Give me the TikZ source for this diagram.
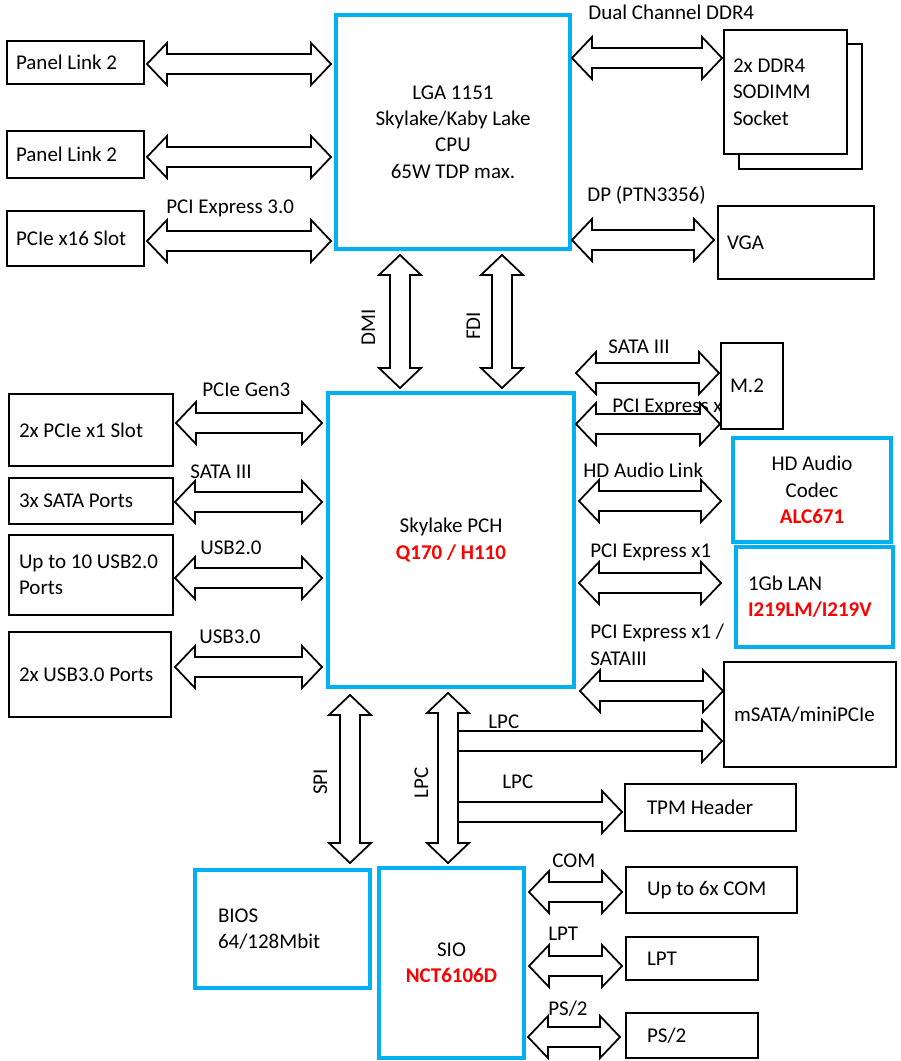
\documentclass[tikz,border=0pt]{standalone}
\usepackage{fontspec}
\setmainfont{Carlito}
\usetikzlibrary{calc}
\definecolor{chipblue}{HTML}{00B0F0}
\definecolor{chipred}{HTML}{FF0000}
\def\headlen{0.4cm}
\def\headwid{0.42cm}
\def\shaftwid{0.2cm}
\newcommand{\partno}[1]{{\color{chipred}\bfseries #1}}
\tikzset{
	box/.style={draw, line width=1pt, fill=white, outer sep=0pt, inner ysep=0pt, align=flush left},
	chip/.style={draw=chipblue, line width=2.3pt, fill=white, outer sep=0pt, inner sep=0pt, align=center},
	bus/.style={inner sep=0pt, anchor=base west, align=flush left},
	vbus/.style={inner sep=0pt, anchor=base, rotate=90},
	hdbl/.style={draw, fill=white, line width=1pt, line join=miter,
		to path={-- ([shift={(\headlen,\headwid)}]\tikztostart)
			-- ([shift={(\headlen,\shaftwid)}]\tikztostart)
			-- ([shift={(-\headlen,\shaftwid)}]\tikztotarget)
			-- ([shift={(-\headlen,\headwid)}]\tikztotarget)
			-- (\tikztotarget)
			-- ([shift={(-\headlen,-\headwid)}]\tikztotarget)
			-- ([shift={(-\headlen,-\shaftwid)}]\tikztotarget)
			-- ([shift={(\headlen,-\shaftwid)}]\tikztostart)
			-- ([shift={(\headlen,-\headwid)}]\tikztostart)
			-- cycle}},
	vdbl/.style={draw, fill=white, line width=1pt, line join=miter,
		to path={-- ([shift={(\headwid,-\headlen)}]\tikztostart)
			-- ([shift={(\shaftwid,-\headlen)}]\tikztostart)
			-- ([shift={(\shaftwid,\headlen)}]\tikztotarget)
			-- ([shift={(\headwid,\headlen)}]\tikztotarget)
			-- (\tikztotarget)
			-- ([shift={(-\headwid,\headlen)}]\tikztotarget)
			-- ([shift={(-\shaftwid,\headlen)}]\tikztotarget)
			-- ([shift={(-\shaftwid,-\headlen)}]\tikztostart)
			-- ([shift={(-\headwid,-\headlen)}]\tikztostart)
			-- cycle}},
	hsgl/.style={draw, fill=white, line width=1pt, line join=miter,
		to path={-- ([yshift=\shaftwid]\tikztostart)
			-- ([shift={(-\headlen,\shaftwid)}]\tikztotarget)
			-- ([shift={(-\headlen,\headwid)}]\tikztotarget)
			-- (\tikztotarget)
			-- ([shift={(-\headlen,-\headwid)}]\tikztotarget)
			-- ([shift={(-\headlen,-\shaftwid)}]\tikztotarget)
			-- ([yshift=-\shaftwid]\tikztostart)
			-- cycle}}
}
\begin{document}
\begin{tikzpicture}[x=0.02cm, y=-0.02cm, font=\fontsize{11.95}{15}\selectfont]
		\useasboundingbox (0,0) rectangle (901,1061);
		\node (lddr) [bus] at (588,20) {Dual Channel DDR4};
		\node (ldp) [bus] at (587,201) {DP (PTN3356)};
		\node (lx16) [bus] at (166,213) {PCI Express 3.0};
		\node (lm2a) [bus] at (608,353) {SATA III};
		\node (lm2b) [bus] at (612,412) {PCI Express x};
		\node (lhda) [bus] at (583,477) {HD Audio Link};
		\node (llan) [bus] at (590,557) {PCI Express x1};
		\node (lmsata) [bus] at (590,665) {PCI Express x1 /\\SATAIII};
		\node (lpcie1) [bus] at (202,396) {PCIe Gen3};
		\node (lsata) [bus] at (190,478) {SATA III};
		\node (lusb2) [bus] at (200,554) {USB2.0};
		\node (lusb3) [bus] at (199,643) {USB3.0};
		\node (llpc1) [bus] at (488,728) {LPC};
		\node (llpc2) [bus] at (502,788) {LPC};
		\node (lcom) [bus] at (552,867) {COM};
		\node (llpt) [bus] at (548,940) {LPT};
		\node (lps2) [bus] at (548,1015) {PS/2};
		\node (ldmi) [vbus] at (375,327) {DMI};
		\node (lfdi) [vbus] at (480,326) {FDI};
		\node (lspi) [vbus] at (327,782) {SPI};
		\node (llpcv) [vbus] at (428,783) {LPC};
		\node (pl1) [box, minimum height=0.86cm, text width=2.38cm, inner xsep=0.18cm] at (75.5,62.5) {Panel Link 2};
		\node (pl2) [box, minimum height=0.94cm, text width=2.38cm, inner xsep=0.18cm] at (75.5,154.5) {Panel Link 2};
		\node (x16) [box, minimum height=1.10cm, text width=2.38cm, inner xsep=0.18cm] at (75.5,238.5) {PCIe x16 Slot};
		\node (ddrb) [box, minimum width=2.46cm, minimum height=2.50cm] at (800.5,106.5) {};
		\node (ddr) [box, minimum height=2.48cm, text width=2.10cm, inner xsep=0.18cm] at (785.5,92) {2x DDR4\\SODIMM\\Socket};
		\node (vga) [box, minimum height=1.46cm, text width=2.76cm, inner xsep=0.18cm] at (796,242.5) {VGA};
		\node (m2) [box, minimum height=1.72cm, text width=0.88cm, inner xsep=0.18cm] at (752,386) {M.2};
		\node (msata) [box, minimum height=2.10cm, text width=3.04cm, inner xsep=0.2cm] at (810,714.5) {mSATA/miniPCIe};
		\node (tpm) [box, minimum height=0.94cm, text width=2.54cm, inner xsep=0.44cm] at (710.5,807.5) {TPM Header};
		\node (com) [box, minimum height=0.92cm, text width=2.58cm, inner xsep=0.42cm] at (711.5,890) {Up to 6x COM};
		\node (lpt) [box, minimum height=0.86cm, text width=1.80cm, inner xsep=0.42cm] at (692,958.5) {LPT};
		\node (ps2) [box, minimum height=0.90cm, text width=1.80cm, inner xsep=0.42cm] at (692,1035.5) {PS/2};
		\node (pcie1) [box, minimum height=1.44cm, text width=2.88cm, inner xsep=0.2cm] at (91,430) {2x PCIe x1 Slot};
		\node (sata) [box, minimum height=0.92cm, text width=2.88cm, inner xsep=0.2cm] at (91,501) {3x SATA Ports};
		\node (usb2) [box, minimum height=1.60cm, text width=2.88cm, inner xsep=0.2cm] at (91,575) {Up to 10 USB2.0\\Ports};
		\node (usb3) [box, minimum height=1.70cm, text width=2.84cm, inner xsep=0.2cm] at (90,674.5) {2x USB3.0 Ports};
		\node (cpu) [chip, minimum width=4.68cm, minimum height=4.68cm] at (453,132) {LGA 1151\\Skylake/Kaby Lake\\CPU\\65W TDP max.};
		\node (pch) [chip, minimum width=4.92cm, minimum height=5.88cm] at (451,540) {Skylake PCH\\\partno{Q170 / H110}};
		\node (hda) [chip, minimum width=3.16cm, minimum height=2.08cm] at (812,490) {HD Audio\\Codec\\\partno{ALC671}};
		\node (lan) [chip, minimum height=2.00cm, text width=2.66cm, inner xsep=0.24cm, align=flush left] at (814.5,597) {1Gb LAN\\\partno{I219LM/I219V}};
		\node (bios) [chip, minimum height=2.36cm, text width=2.58cm, inner xsep=0.46cm, align=flush left] at (282.5,929) {BIOS\\64/128Mbit};
		\node (sio) [chip, minimum width=2.90cm, minimum height=3.80cm] at (451.5,963) {SIO\\\partno{NCT6106D}};
		\coordinate (dmi) at (400,0);
		\coordinate (fdi) at (502,0);
		\coordinate (spi) at (350,0);
		\coordinate (lpc) at (448,0);
		\path [hdbl] ([xshift=0.06cm]pl1.east |- 0,64) to ([xshift=-0.1cm]cpu.west |- 0,64);
		\path [hdbl] ([xshift=0.06cm]pl2.east |- 0,157) to ([xshift=-0.1cm]cpu.west |- 0,157);
		\path [hdbl] ([xshift=0.06cm]x16.east |- 0,241) to ([xshift=-0.1cm]cpu.west |- 0,241);
		\path [hdbl] ([xshift=0.04cm]cpu.east |- 0,58) to ([xshift=-0.04cm]ddr.west |- 0,58);
		\path [hdbl] ([xshift=0.04cm]cpu.east |- 0,240) to ([xshift=-0.08cm]vga.west |- 0,240);
		\path [hdbl] ([xshift=0.04cm]pch.east |- 0,373) to ([xshift=-0.04cm]m2.west |- 0,373);
		\path [hdbl] ([xshift=0.04cm]pch.east |- 0,424) to ([xshift=-0.02cm]m2.west |- 0,424);
		\path [hdbl] ([xshift=0.1cm]pch.east |- 0,501) to ([xshift=-0.24cm]hda.west |- 0,501);
		\path [hdbl] ([xshift=0.1cm]pch.east |- 0,583) to ([xshift=-0.3cm]lan.west |- 0,583);
		\path [hdbl] ([xshift=0.12cm]pch.east |- 0,691) to ([xshift=-0.02cm]msata.west |- 0,691);
		\path [hdbl] ([xshift=0.06cm]pcie1.east |- 0,423) to ([xshift=-0.12cm]pch.west |- 0,423);
		\path [hdbl] ([xshift=0.04cm]sata.east |- 0,502) to ([xshift=-0.12cm]pch.west |- 0,502);
		\path [hdbl] ([xshift=0.04cm]usb2.east |- 0,578) to ([xshift=-0.12cm]pch.west |- 0,578);
		\path [hdbl] ([xshift=0.08cm]usb3.east |- 0,667) to ([xshift=-0.12cm]pch.west |- 0,667);
		\path [hdbl] ([xshift=0.1cm]sio.east |- 0,892) to ([xshift=-0.08cm]com.west |- 0,892);
		\path [hdbl] ([xshift=0.1cm]sio.east |- 0,966) to ([xshift=-0.08cm]lpt.west |- 0,966);
		\path [hdbl] ([xshift=0.08cm]sio.east |- 0,1037) to ([xshift=-0.12cm]ps2.west |- 0,1037);
		\path [vdbl] ([yshift=-0.12cm]dmi |- cpu.south) to ([yshift=0.1cm]dmi |- pch.north);
		\path [vdbl] ([yshift=-0.12cm]fdi |- cpu.south) to ([yshift=0.1cm]fdi |- pch.north);
		\path [vdbl] ([yshift=-0.16cm]spi |- pch.south) to ([yshift=0.14cm]spi |- bios.north);
		\path [vdbl] ([yshift=-0.12cm]lpc |- pch.south) to ([yshift=0.1cm]lpc |- sio.north);
		\path [hsgl] ([xshift=0.2cm]lpc |- 0,741) to ([xshift=-0.04cm]msata.west |- 0,741);
		\path [hsgl] ([xshift=0.2cm]lpc |- 0,812) to ([xshift=-0.06cm]tpm.west |- 0,812);
\end{tikzpicture}
\end{document}
